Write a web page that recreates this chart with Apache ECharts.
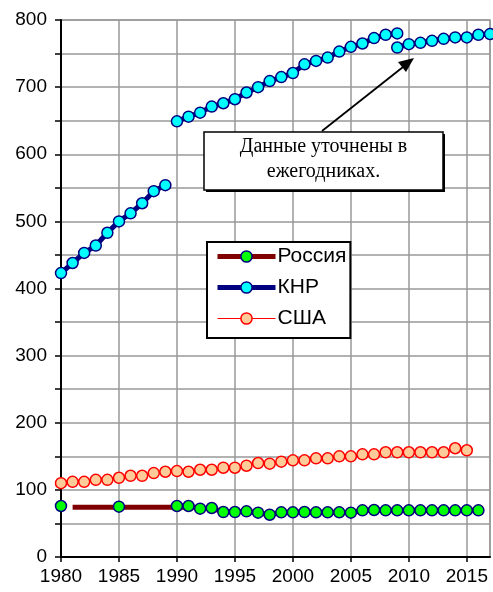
<!DOCTYPE html>
<html><head><meta charset="utf-8">
<script src="https://cdn.jsdelivr.net/npm/echarts@6/dist/echarts.min.js"></script>
<style>html,body{margin:0;padding:0;background:#fff}#c{width:493px;height:592px}</style>
</head><body><div id="c"></div>
<script>
// ---- data ----
const yTicks = [0,100,200,300,400,500,600,700,800];
const xTicks = [1980,1985,1990,1995,2000,2005,2010,2015];

const chnYears1 = [1980,1981,1982,1983,1984,1985,1986,1987,1988,1989];
const chnVals1  = [423,438,453,464,483,500,512,527,545,554];
const chnYears2 = [1990,1991,1992,1993,1994,1995,1996,1997,1998,1999,2000,2001,2002,2003,2004,2005,2006,2007,2008,2009];
const chnVals2  = [649,656,662,671,676,682,692,700,709,715,721,734,739,744,753,760,765,773,778,780];
const chnYears3 = [2009,2010,2011,2012,2013,2014,2015,2016,2017];
const chnVals3  = [759,764,766,769,772,774,774,778,779];

const usaYears = [1980,1981,1982,1983,1984,1985,1986,1987,1988,1989,1990,1991,1992,1993,1994,1995,1996,1997,1998,1999,2000,2001,2002,2003,2004,2005,2006,2007,2008,2009,2010,2011,2012,2013,2014,2015];
const usaVals  = [110,112,112,115,115,118,121,121,125,127,128,127,130,130,133,133,136,140,139,142,144,144,147,147,150,150,153,153,156,156,156,156,156,156,162,159];

const rusYears = [1980,1981,1982,1983,1984,1985,1986,1987,1988,1989,1990,1991,1992,1993,1994,1995,1996,1997,1998,1999,2000,2001,2002,2003,2004,2005,2006,2007,2008,2009,2010,2011,2012,2013,2014,2015,2016];
const rusVals  = [76,null,null,null,null,75,null,null,null,null,76,76,72,73,67,67,68,66,63,66.5,66.5,67,66.5,66.5,66.5,66,69.5,70,69.5,69.5,69.5,69.5,69.5,69.5,69.5,69.5,69.5];
const ussrYears = [1981,1982,1983,1984,1985,1986,1987,1988,1989,1990,1991];
const ussrVals  = [74,74,74,74,74,74,74,74,74,74,74];

const seriesNames = ['Россия','КНР','США'];
const noteLines = ['Данные уточнены в','ежегодниках.'];

function pairs(xs, ys){ return xs.map((x,i)=>[x, ys[i]==null ? '-' : ys[i]]); }

const chart = echarts.init(document.getElementById('c'));
const FONT = '"Liberation Sans", Arial, sans-serif';

const chnStyle = {
  type:'line', name:'КНР', symbol:'circle', symbolSize:11, showSymbol:true,
  lineStyle:{color:'#000080', width:5}, itemStyle:{color:'#00FFFF', borderColor:'#000080', borderWidth:1.5},
  emphasis:{disabled:true}, animation:false, z:5
};

chart.setOption({
  animation:false,
  textStyle:{fontFamily:FONT},
  grid:{left:61, right:3, top:20, bottom:35, show:true, borderColor:'#999', borderWidth:1.5, backgroundColor:'transparent'},
  xAxis:{
    type:'value', min:1980, max:2017, interval:5,
    axisLine:{show:true, onZero:false, lineStyle:{color:'#000', width:2}},
    axisTick:{show:true, length:5, lineStyle:{color:'#000', width:1.5}},
    axisLabel:{color:'#000', fontSize:19, fontFamily:FONT, margin:10, showMaxLabel:false,
      formatter:v=> xTicks.includes(v) ? String(v) : ''},
    splitLine:{show:true, lineStyle:{color:'#999', width:1.5}}
  },
  yAxis:{
    type:'value', min:0, max:800, interval:50,
    axisLine:{show:true, lineStyle:{color:'#000', width:2}},
    axisTick:{show:true, length:6, lineStyle:{color:'#000', width:1.5}},
    axisLabel:{color:'#000', fontSize:19, fontFamily:FONT, margin:14,
      formatter:v=> yTicks.includes(v) ? String(v) : ''},
    splitLine:{show:true, lineStyle:{color:'#999', width:1.5}}
  },
  legend:{
    data:[
      {name:seriesNames[0], lineStyle:{color:'#800000', width:5}, itemStyle:{color:'#00FF00', borderColor:'#000080', borderWidth:1.5}},
      {name:seriesNames[1], lineStyle:{color:'#000080', width:5}, itemStyle:{color:'#00FFFF', borderColor:'#000080', borderWidth:1.5}},
      {name:seriesNames[2], lineStyle:{color:'#FF0000', width:1.2}, itemStyle:{color:'#FFCC99', borderColor:'#FF0000', borderWidth:1.5}}
    ],
    orient:'vertical', left:207, top:242,
    itemWidth:58, itemHeight:14, itemGap:10,
    padding:[4,4,9,8], borderColor:'#000', borderWidth:2, backgroundColor:'#fff',
    textStyle:{color:'#000', fontSize:21, fontFamily:FONT, padding:[0,0,0,-3]},
    selectedMode:false, z:20
  },
  series:[
    {type:'line', name:'США', data:pairs(usaYears, usaVals), symbol:'circle', symbolSize:11,
     lineStyle:{color:'#FF0000', width:1.2}, itemStyle:{color:'#FFCC99', borderColor:'#FF0000', borderWidth:1.5},
     emphasis:{disabled:true}, z:2},
    {type:'line', name:'Россия', data:pairs(rusYears, rusVals), symbol:'circle', symbolSize:11, connectNulls:false,
     lineStyle:{color:'#800000', width:5}, itemStyle:{color:'#00FF00', borderColor:'#000080', borderWidth:1.5},
     emphasis:{disabled:true}, z:4},
    {type:'line', name:'Россия ', data:pairs(ussrYears, ussrVals), symbol:'none',
     lineStyle:{color:'#800000', width:5}, emphasis:{disabled:true}, z:3},
    Object.assign({}, chnStyle, {data:pairs(chnYears1, chnVals1)}),
    Object.assign({}, chnStyle, {data:pairs(chnYears2, chnVals2)}),
    Object.assign({}, chnStyle, {data:pairs(chnYears3, chnVals3)})
  ],
  graphic:[
    {type:'line', z:30, shape:{x1:322, y1:131, x2:403, y2:67}, style:{stroke:'#000', lineWidth:1.8}},
    {type:'polygon', z:30, shape:{points:[[414,58],[406,72],[398,62]]}, style:{fill:'#000'}},
    {type:'rect', z:29, shape:{x:206, y:134, width:239, height:58}, style:{fill:'#000'}},
    {type:'rect', z:30, shape:{x:204, y:132, width:239, height:58}, style:{fill:'#fff', stroke:'#000', lineWidth:1.5}},
    {type:'text', z:31, style:{x:323.5, y:147, text:noteLines[0], fill:'#000', font:'20px "Liberation Serif", "Times New Roman", serif', align:'center', verticalAlign:'middle'}},
    {type:'text', z:31, style:{x:323.5, y:172, text:noteLines[1], fill:'#000', font:'20px "Liberation Serif", "Times New Roman", serif', align:'center', verticalAlign:'middle'}}
  ]
});
</script></body></html>
